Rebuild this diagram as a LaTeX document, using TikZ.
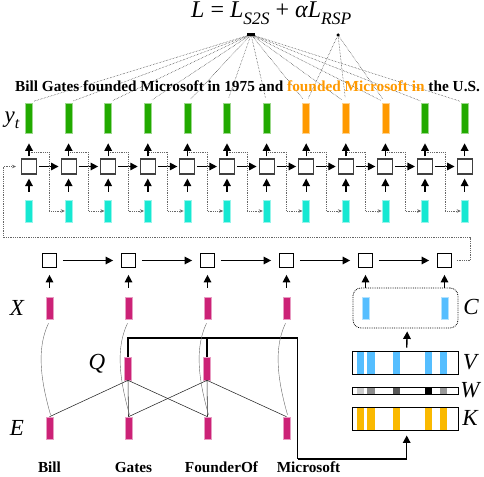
\documentclass[tikz,border=0pt]{standalone}
\usepackage{fontspec}
\setmainfont{Liberation Serif}
\usetikzlibrary{calc,arrows.meta}
\definecolor{cgreen}{RGB}{34,170,0}
\definecolor{corange}{RGB}{255,153,0}
\definecolor{ccyan}{RGB}{22,232,210}
\definecolor{cmag}{RGB}{204,34,119}
\definecolor{cblue}{RGB}{85,190,255}
\definecolor{cgold}{RGB}{250,185,0}
\begin{document}
\begin{tikzpicture}[x=1pt,y=-1pt,
  bar/.style={rectangle, inner sep=0pt, minimum width=7pt, minimum height=#1, line width=0.6pt},
  ybar/.style={bar=30pt, fill=#1, draw=#1!45},
  cbar/.style={bar=22pt, fill=ccyan, draw=ccyan!45},
  mbar/.style={bar=22pt, fill=cmag, draw=cmag!45},
  bbar/.style={bar=22pt, fill=cblue, draw=cblue!45},
  dsq/.style={draw=black!75, line width=1.1pt, fill=white, minimum size=15pt, inner sep=0pt},
  esq/.style={draw=black, line width=0.7pt, fill=white, minimum size=14pt, inner sep=0pt},
  arr/.style={-{Triangle[length=7.5pt,width=7.5pt]}, line width=1.4pt},
  fb/.style={densely dotted, black!60, line width=0.8pt, -{Stealth[length=4pt,width=3.5pt]}},
  lossline/.style={densely dotted, line width=0.5pt, black!85},
  thickline/.style={line width=1.5pt},
  thinline/.style={line width=0.55pt, black!85},
  curveline/.style={line width=0.4pt, black!60},
  lab/.style={font=\fontsize{23}{23}\selectfont\itshape},
  word/.style={font=\fontsize{15.3}{15.3}\selectfont\bfseries, anchor=base, inner sep=0pt}
]
\useasboundingbox (0,0) rectangle (484,476);

% ---------- decoder ----------
\foreach \i/\col in {0/cgreen,1/cgreen,2/cgreen,3/cgreen,4/cgreen,5/cgreen,6/cgreen,7/corange,8/corange,9/corange,10/cgreen,11/cgreen}{
  \node[ybar=\col] (y\i) at ({29+39.6*\i},118) {};
  \node[dsq] (d\i) at ({29+39.6*\i},166.5) {};
  \node[cbar] (c\i) at ({29+39.6*\i},211) {};
}
% loss nodes
\node[fill, minimum width=8pt, minimum height=3pt, inner sep=0pt] (Ls) at (251,34.5) {};
\node[circle, fill, minimum size=3.5pt, inner sep=0pt] (Lr) at (338,35) {};
\foreach \i in {0,...,11}{
  \draw[lossline, shorten >=5pt] (Ls) -- (y\i.north);
}
\foreach \i in {7,8,9}{
  \draw[lossline, shorten >=5pt] (Lr) -- (y\i.north);
}
\node[anchor=base west, inner sep=0pt, font=\fontsize{24}{24}\selectfont] (loss) at (191,17.5)
  {\textit{L} = \textit{L}\raisebox{-0.3em}{\fontsize{17.5}{17.5}\selectfont\itshape S2S} + \textit{αL}\raisebox{-0.3em}{\fontsize{17.5}{17.5}\selectfont\itshape RSP}};
\node[word] (sent) at (247.5,91.5) {Bill Gates founded Microsoft in 1975 and \textcolor{corange}{founded Microsoft in} the U.S.};
\node[lab, anchor=base] (yt) at (12,122) {y\raisebox{-0.3em}{\fontsize{16}{16}\selectfont\itshape t}};

\foreach \i in {0,...,11}{
  \draw[arr] ($(d\i.north)+(0,-2)$) -- ($(y\i.south)+(0,10)$);
  \draw[arr] ($(c\i.north)+(0,-8)$) -- ($(d\i.south)+(0,4)$);
}
\foreach \i [evaluate=\i as \j using int(\i+1)] in {0,...,10}{
  \draw[arr, shorten <=2pt, shorten >=2pt] (d\i) -- (d\j);
  \draw[fb] ($(d\i.north)+(1.5,-6)$) -- ++(18.5,0) |- (c\j.west);
}

% ---------- encoder ----------
\foreach \k in {0,...,5}{
  \node[esq] (e\k) at ({49.5+79*\k},260.5) {};
}
\foreach \k [evaluate=\k as \j using int(\k+1)] in {0,...,4}{
  \draw[arr, shorten <=6pt, shorten >=8pt] (e\k) -- (e\j);
}
% feedback loop
\draw[fb, shorten <=5pt, shorten >=5pt] (e5.east) -- (470.5,260.5) -- (470.5,237.5) -- (3,237.5) |- (d0.west);

\foreach \k in {0,...,3}{
  \node[mbar] (xb\k) at ({49.5+79*\k},308) {};
  \draw[arr] ($(xb\k.north)+(0,-9)$) -- ($(e\k.south)+(0,7)$);
}
% C box
\node[draw, densely dotted, rounded corners=8pt, line width=0.8pt, minimum width=105pt, minimum height=40pt, inner sep=0pt] (Cbox) at (405.5,308) {};
\node[bbar] (cb4) at (365.5,308) {};
\node[bbar] (cb5) at (444.5,308) {};
\draw[arr] (cb4.north |- Cbox.north) -- ($(e4.south)+(0,7)$);
\draw[arr] (cb5.north |- Cbox.north) -- ($(e5.south)+(0,7)$);

% V W K
\foreach \a/\b in {356.7/364,367.3/374.7,392.7/400,425/432.3,440/447.3}{
  \fill[cblue] (\a,351) rectangle (\b,374);
  \fill[cgold] (\a,407) rectangle (\b,430);
}
\fill[black!20] (356.7,387.3) rectangle (364,394);
\fill[black!45] (367.3,387.3) rectangle (374.7,394);
\fill[black!65] (392.7,387.3) rectangle (400,394);
\fill[black] (425,387.3) rectangle (432.3,394);
\fill[black!40] (440,387.3) rectangle (447.3,394);
\node[draw, line width=0.9pt, minimum width=106pt, minimum height=23pt, inner sep=0pt] (V) at (405,362.5) {};
\node[draw, line width=0.8pt, minimum width=106pt, minimum height=6.7pt, inner sep=0pt] (W) at (405,390.7) {};
\node[draw, line width=0.9pt, minimum width=106pt, minimum height=23pt, inner sep=0pt] (K) at (405,418.5) {};
\draw[arr] ($(V.north)+(1.7,-3)$) -- ($(Cbox.south)+(1.7,3)$);

% Q and E
\node[mbar, minimum height=23pt] (q0) at (128,368.5) {};
\node[mbar, minimum height=23pt] (q1) at (207,368.5) {};
\foreach \k in {0,...,3}{
  \node[mbar] (eb\k) at ({49.5+79*\k},428) {};
}
\coordinate (hbar) at (297.7,338);
\coordinate (lbar) at (297.7,459);
\draw[thickline] (q0.north) |- (hbar) -- (lbar);
\draw[thickline] (q1.north) -- (q1.north |- hbar);
\draw[arr, line width=1.5pt] (lbar) -| ($(K.south)+(1.7,5)$);

\draw[thinline] (eb0.north) -- (q0.south);
\draw[thinline] (q0.south) -- (eb1.north);
\draw[thinline] (q0.south) -- (eb2.north);
\draw[thinline] (eb1.north) -- (q1.south);
\draw[thinline] (q1.south) -- (eb2.north);
\draw[thinline] (q1.south) -- (eb3.north);
\foreach \k in {0,...,3}{
  \draw[curveline] ($(xb\k.south)+(-1,4)$) .. controls +(-12,25) and +(-10,-35) .. ($(eb\k.north)+(1,-2)$);
}

% labels
\node[lab] (lX) at (17,308) {X};
\node[lab] (lQ) at (97,364) {Q};
\node[lab] (lE) at (17,428) {E};
\node[lab] (lC) at (471,307) {C};
\node[lab] (lV) at (470,362) {V};
\node[lab] (lW) at (470,390) {W};
\node[lab] (lK) at (470,418) {K};

% bottom words
\node[word] (w0) at (49.5,472.5) {Bill};
\node[word] (w1) at (133.5,472.5) {Gates};
\node[word] (w2) at (221.5,472.5) {FounderOf};
\node[word] (w3) at (308.5,472.5) {Microsoft};
\end{tikzpicture}
\end{document}
